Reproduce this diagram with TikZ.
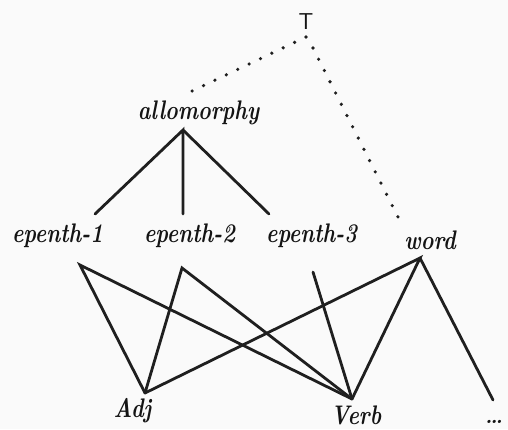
\documentclass[tikz,border=0pt]{standalone}
\usepackage{tikz}
\usetikzlibrary{positioning}
\newcommand{\tallword}[1]{\scalebox{1}[1.25]{#1}}
\begin{document}
\begin{tikzpicture}[x=1pt,y=-1pt,
  lab/.style={font=\fontsize{21.5}{25}\selectfont\bfseries\itshape, text=black!92, inner sep=0pt, anchor=base},
  edge/.style={line width=2.8pt, line cap=round, draw=black!88},
  dotedge/.style={line width=3.6pt, line cap=round, dash pattern=on 0pt off 12.6pt, draw=black!88}]
\useasboundingbox (0,0) rectangle (508,429);
\fill[gray!4] (0,0) rectangle (508,429);
% labels
\node[lab, font=\fontsize{23}{27}\selectfont\sffamily] (top) at (306,29) {T};
\node[lab] (allo) at (198.5,119) {\tallword{allomorphy}};
\node[lab] (ep1) at (57.5,242) {\tallword{epenth-1}};
\node[lab] (ep2) at (189.5,242) {\tallword{epenth-2}};
\node[lab] (ep3) at (311.5,242) {\tallword{epenth-3}};
\node[lab] (word) at (430,249) {\tallword{word}};
\node[lab] (adj) at (132.5,417) {\tallword{Adj}};
\node[lab] (verb) at (356,424) {\tallword{Verb}};
\node[lab] (more) at (494,423) {\dots};
% dotted links from T
\draw[dotedge] ([shift={(0,8)}]top.base) -- ([shift={(-8.5,-27)}]allo.base);
\draw[dotedge] ([shift={(7,19)}]top.base) -- ([shift={(-30,-28)}]word.base);
% allomorphy
\draw[edge] ([shift={(37.5,-28)}]ep1.base) -- ([shift={(-15.5,11)}]allo.base)
  -- ([shift={(-6.5,-28)}]ep2.base);
\draw[edge] ([shift={(-15.5,11)}]allo.base) -- ([shift={(-42.5,-28)}]ep3.base);
% lower level
\draw[edge] ([shift={(12.5,-24)}]adj.base) -- ([shift={(22.5,23)}]ep1.base)
  -- ([shift={(-4,-25)}]verb.base);
\draw[edge] ([shift={(12.5,-24)}]adj.base) -- ([shift={(-7.5,26)}]ep2.base)
  -- ([shift={(-4,-25)}]verb.base);
\draw[edge] ([shift={(1.5,30)}]ep3.base) -- ([shift={(-4,-25)}]verb.base);
\draw[edge] ([shift={(12.5,-24)}]adj.base) -- ([shift={(-10,9)}]word.base)
  -- ([shift={(-4,-25)}]verb.base);
\draw[edge] ([shift={(-10,9)}]word.base) -- ([shift={(-1,-23)}]more.base);
\end{tikzpicture}
\end{document}
